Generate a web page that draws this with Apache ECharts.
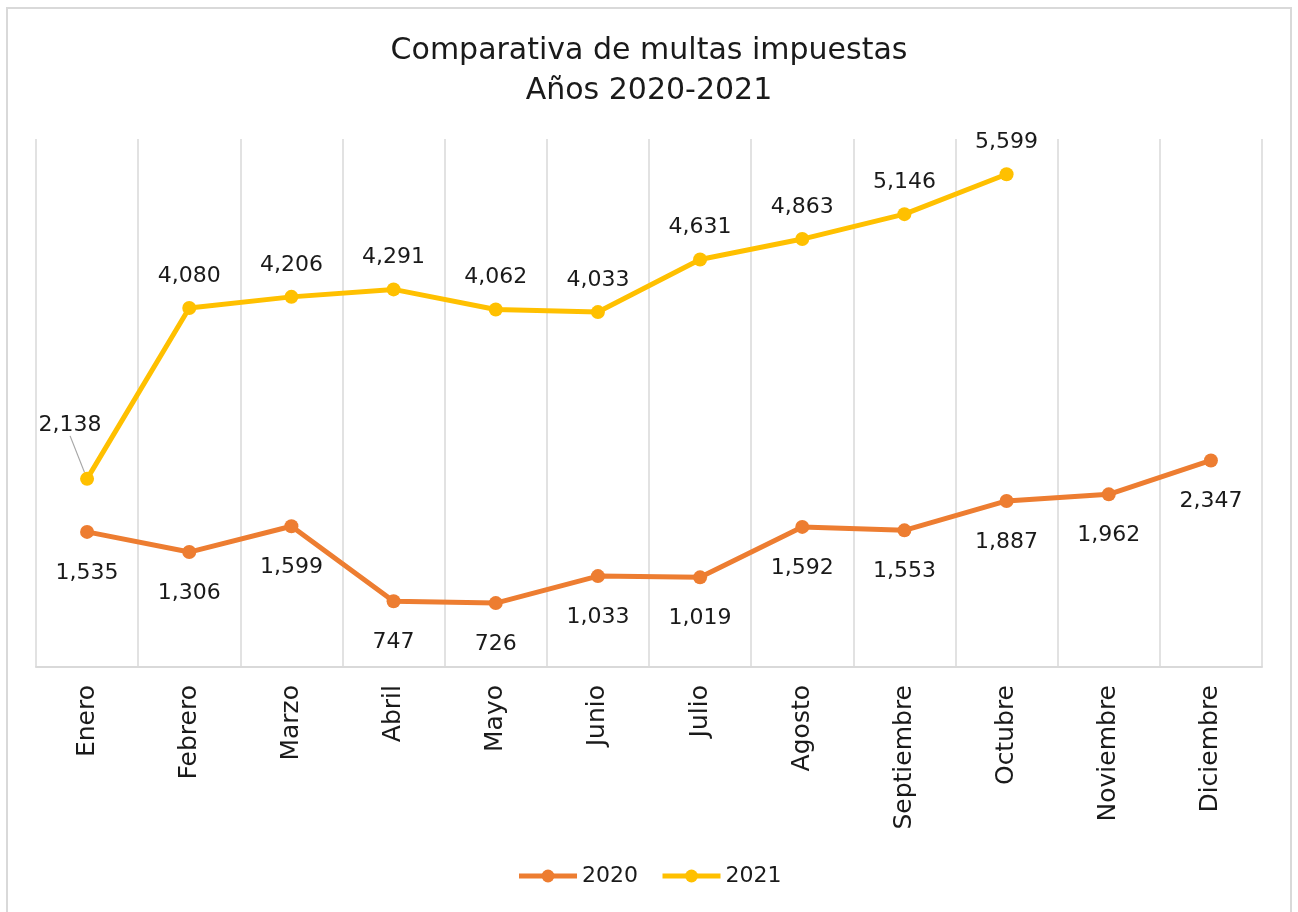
<!DOCTYPE html>
<html>
<head>
<meta charset="utf-8">
<script src="https://cdn.jsdelivr.net/npm/echarts@6/dist/echarts.min.js"></script>
<style>
  html, body { margin: 0; padding: 0; background: #fff; }
  #main { width: 1298px; height: 912px; }
</style>
</head>
<body>
<div id="main"></div>
<script>
var months = ['Enero', 'Febrero', 'Marzo', 'Abril', 'Mayo', 'Junio', 'Julio',
  'Agosto', 'Septiembre', 'Octubre', 'Noviembre', 'Diciembre'];
var multas2020 = [1535, 1306, 1599, 747, 726, 1033, 1019, 1592, 1553, 1887, 1962, 2347];
var multas2021 = [2138, 4080, 4206, 4291, 4062, 4033, 4631, 4863, 5146, 5599, null, null];

var fontName = 'DejaVu Sans';
var txt = '#1a1a1a';

function fmt(p) {
  return p.value == null ? '' : p.value.toLocaleString('en-US');
}

// only the first 2021 label is moved aside with a leader line
var data2021 = multas2021.map(function (v, i) {
  return i === 0 ? { value: v, labelLine: { show: true } } : v;
});

var myChart = echarts.init(document.getElementById('main'));
var option = {
  backgroundColor: '#fff',
  title: {
    text: 'Comparativa de multas impuestas\nAños 2020-2021',
    left: 'center',
    top: 26,
    textStyle: { fontFamily: fontName, fontSize: 30, fontWeight: 'normal', color: txt, lineHeight: 40 }
  },
  legend: {
    bottom: 20,
    left: 'center',
    itemWidth: 58,
    itemHeight: 16,
    itemGap: 22,
    lineStyle: { width: 5 },
    textStyle: { fontFamily: fontName, fontSize: 22, color: txt },
    data: ['2020', '2021']
  },
  grid: { left: 36, right: 36, top: 139, bottom: 245, containLabel: false },
  xAxis: {
    type: 'category',
    data: months,
    boundaryGap: true,
    axisLine: { lineStyle: { color: '#d9d9d9', width: 2 } },
    axisTick: { show: false },
    splitLine: { show: true, interval: 0, lineStyle: { color: '#d9d9d9', width: 1.5 } },
    axisLabel: {
      interval: 0, rotate: 90, margin: 18,
      fontFamily: fontName, fontSize: 25, color: txt
    }
  },
  yAxis: {
    type: 'value',
    min: 0, max: 6000, interval: 1000,
    axisLine: { show: false },
    axisTick: { show: false },
    axisLabel: { show: false },
    splitLine: { show: false }
  },
  series: [
    {
      name: '2020',
      type: 'line',
      data: multas2020,
      color: '#ED7D31',
      symbol: 'circle',
      symbolSize: 14,
      lineStyle: { width: 5 },
      label: {
        show: true, position: 'bottom', distance: 23,
        fontFamily: fontName, fontSize: 22, color: txt,
        formatter: fmt
      }
    },
    {
      name: '2021',
      type: 'line',
      data: data2021,
      color: '#FFC000',
      symbol: 'circle',
      symbolSize: 14,
      lineStyle: { width: 5 },
      label: {
        show: true, position: 'top', distance: 14,
        fontFamily: fontName, fontSize: 22, color: txt,
        formatter: fmt
      },
      labelLine: { show: false, lineStyle: { color: '#a6a6a6', width: 1.2 } },
      labelLayout: function (params) {
        if (params.dataIndex === 0) {
          return { dx: -17, dy: -22 };
        }
        return {};
      }
    }
  ],
  graphic: [{
    type: 'rect',
    shape: { x: 7, y: 8, width: 1284, height: 910 },
    style: { fill: 'none', stroke: '#d9d9d9', lineWidth: 2 },
    silent: true
  }]
};
myChart.setOption(option);
</script>
</body>
</html>
